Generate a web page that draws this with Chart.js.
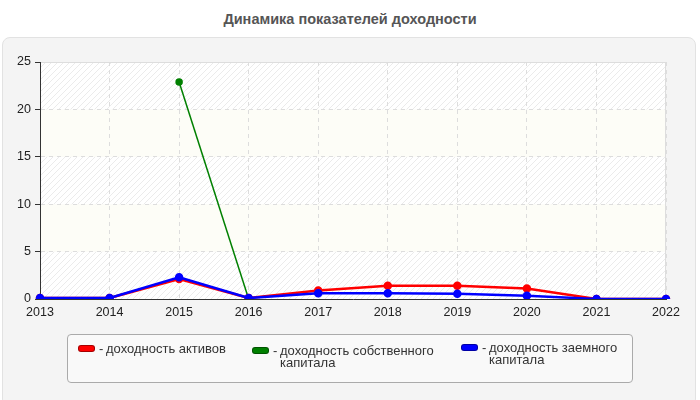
<!DOCTYPE html>
<html>
<head>
<meta charset="utf-8">
<script src="https://cdn.jsdelivr.net/npm/chart.js@4.4.1/dist/chart.umd.min.js"></script>
<style>
  html, body { margin: 0; padding: 0; background: #fff; }
  #wrap { position: relative; width: 700px; height: 400px; overflow: hidden; font-family: "Liberation Sans", Arial, sans-serif; }
  #title { position: absolute; left: 0; top: 11px; width: 700px; text-align: center; font-size: 14.5px; font-weight: bold; color: #555; }
  #panel { position: absolute; left: 2px; top: 37px; width: 694px; height: 370px; background: #f4f4f4; border: 1px solid #e2e2e2; border-radius: 8px; box-sizing: border-box; }
  #chart { position: absolute; left: 0; top: 0; }
  #legend { position: absolute; left: 67px; top: 334px; width: 566px; height: 49px; background: #f9f9f9; border: 1px solid #aaa; border-radius: 4px; box-sizing: border-box; }
  .item { position: absolute; font-size: 13px; line-height: 12px; color: #333; }
  .sw { position: absolute; left: 0; width: 17px; height: 7px; border-radius: 3px; box-sizing: border-box; }
  .dash { position: absolute; left: 21px; }
  .txt { position: absolute; left: 28px; }
</style>
</head>
<body>
<div id="wrap">
  <div id="title">Динамика показателей доходности</div>
  <div id="panel"></div>
  <canvas id="chart" width="700" height="400"></canvas>
  <div id="legend"></div>
</div>
<script>
const years = ["2013", "2014", "2015", "2016", "2017", "2018", "2019", "2020", "2021", "2022"];
const assetsReturn = [0.1, 0.1, 2.1, 0.1, 0.9, 1.4, 1.4, 1.1, 0, 0];
const equityReturn = [null, null, 22.9, 0, null, null, null, null, null, null];
const debtReturn = [0.1, 0.1, 2.3, 0.1, 0.6, 0.6, 0.55, 0.35, 0, 0];
const seriesNames = ["доходность активов", "доходность собственного капитала", "доходность заемного капитала"];
const seriesColors = ["#ff0000", "#008000", "#0000ff"];

// hatched pattern for every other band
const pat = document.createElement("canvas");
pat.width = 6;
pat.height = 6;
const pc = pat.getContext("2d");
pc.fillStyle = "#ffffff";
pc.fillRect(0, 0, 6, 6);
pc.strokeStyle = "#ebebeb";
pc.lineWidth = 1;
pc.beginPath();
pc.moveTo(0, 6);
pc.lineTo(6, 0);
pc.moveTo(-1, 1);
pc.lineTo(1, -1);
pc.moveTo(5, 7);
pc.lineTo(7, 5);
pc.stroke();

const bandsPlugin = {
  id: "bands",
  beforeDraw(chart) {
    const { ctx, chartArea: a, scales } = chart;
    const hatch = ctx.createPattern(pat, "repeat");
    ctx.save();
    for (let v = 0; v < 25; v += 5) {
      const y1 = scales.y.getPixelForValue(v);
      const y2 = scales.y.getPixelForValue(v + 5);
      ctx.fillStyle = (v / 5) % 2 === 0 ? hatch : "#fdfdf7";
      ctx.fillRect(a.left, y2, a.right - a.left, y1 - y2);
    }
    ctx.strokeStyle = "#dddddd";
    ctx.lineWidth = 1;
    ctx.beginPath();
    ctx.moveTo(a.left, a.top + 0.5);
    ctx.lineTo(a.right - 0.5, a.top + 0.5);
    ctx.lineTo(a.right - 0.5, a.bottom);
    ctx.stroke();
    ctx.restore();
  }
};

const ctx = document.getElementById("chart").getContext("2d");

new Chart(ctx, {
  type: "line",
  data: {
    labels: years,
    datasets: [
      {
        label: seriesNames[0],
        data: assetsReturn,
        borderColor: seriesColors[0],
        backgroundColor: seriesColors[0],
        borderWidth: 2.5,
        pointRadius: 3,
        order: 1,
      },
      {
        label: seriesNames[1],
        data: equityReturn,
        borderColor: seriesColors[1],
        backgroundColor: seriesColors[1],
        borderWidth: 1.5,
        pointRadius: 3,
        order: 2,
      },
      {
        label: seriesNames[2],
        data: debtReturn,
        borderColor: seriesColors[2],
        backgroundColor: seriesColors[2],
        borderWidth: 2.5,
        pointRadius: 3,
        order: 0,
      },
    ],
  },
  options: {
    responsive: false,
    animation: false,
    events: [],
    layout: { padding: { left: 0, right: 34, top: 62, bottom: 0 } },
    plugins: {
      legend: { display: false },
      tooltip: { enabled: false },
      title: { display: false },
    },
    scales: {
      x: {
        offset: false,
        grid: { color: "#dddddd", drawTicks: false, tickLength: 0 },
        border: { color: "#333333", dash: [4, 4] },
        ticks: { color: "#222222", font: { family: "Liberation Sans", size: 12.5 }, padding: 6, maxRotation: 0 },
        afterFit(scale) { scale.height = 101; },
      },
      y: {
        min: 0,
        max: 25,
        grid: { color: "#dddddd", tickColor: "#333333", tickLength: 5, tickBorderDash: [] },
        border: { color: "#333333", dash: [4, 4] },
        ticks: { stepSize: 5, color: "#222222", font: { family: "Liberation Sans", size: 12.5 }, padding: 4 },
        afterFit(scale) { scale.width = 40; },
      },
    },
  },
  plugins: [bandsPlugin],
});

// html legend so long names can wrap like the original
const legendPos = [
  { left: 10, top: 8, width: 170 },
  { left: 184, top: 10, width: 170 },
  { left: 393, top: 7, width: 150 },
];
const legendEl = document.getElementById("legend");
seriesNames.forEach((name, i) => {
  const item = document.createElement("div");
  item.className = "item";
  item.style.left = legendPos[i].left + "px";
  item.style.top = legendPos[i].top + "px";
  item.style.width = legendPos[i].width + 28 + "px";
  const sw = document.createElement("div");
  sw.className = "sw";
  sw.style.top = "2px";
  sw.style.background = seriesColors[i];
  sw.style.border = "1px solid rgba(0,0,0,0.35)";
  const dash = document.createElement("div");
  dash.className = "dash";
  dash.textContent = "-";
  const txt = document.createElement("div");
  txt.className = "txt";
  txt.style.width = legendPos[i].width + "px";
  txt.textContent = name;
  item.appendChild(sw);
  item.appendChild(dash);
  item.appendChild(txt);
  legendEl.appendChild(item);
});
</script>
</body>
</html>
